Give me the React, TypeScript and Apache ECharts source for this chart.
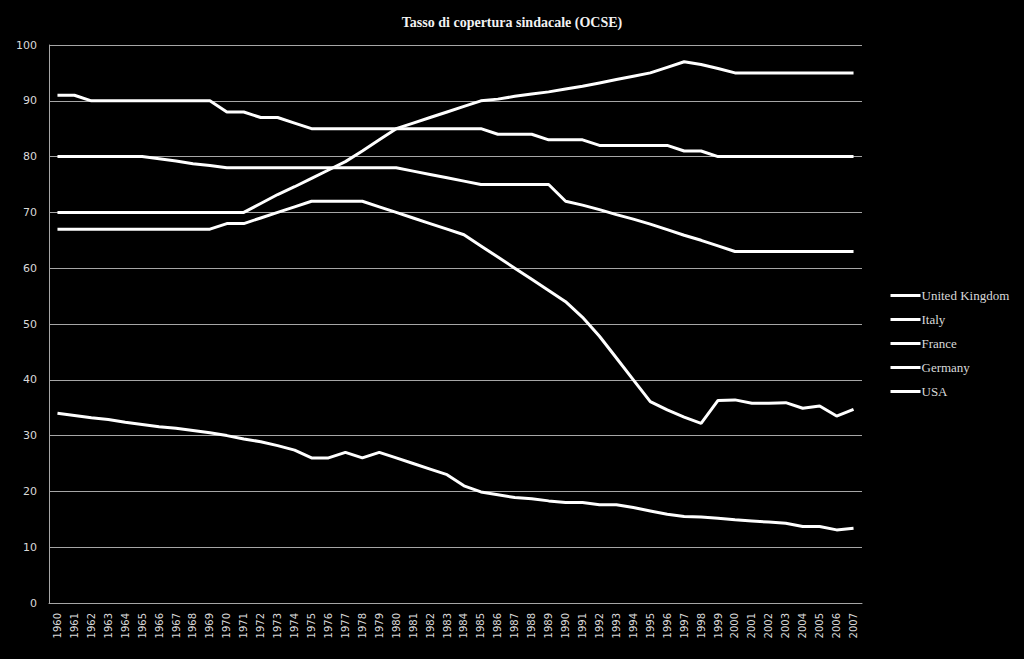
import React, { useEffect, useRef } from "react";
import * as echarts from "echarts";

const years: string[] = [];
for (let y = 1960; y <= 2007; y++) years.push(String(y));

const unitedKingdom = [
  67, 67, 67, 67, 67, 67, 67, 67, 67, 67, 68, 68, 69, 70, 71, 72, 72, 72, 72, 71,
  70, 69, 68, 67, 66, 64, 62, 60, 58, 56, 54, 51.2, 47.8, 43.9, 40, 36.1, 34.6, 33.3, 32.2, 36.3,
  36.4, 35.8, 35.8, 35.9, 34.9, 35.3, 33.5, 34.7,
];
const italy = [
  91, 91, 90, 90, 90, 90, 90, 90, 90, 90, 88, 88, 87, 87, 86, 85, 85, 85, 85, 85,
  85, 85, 85, 85, 85, 85, 84, 84, 84, 83, 83, 83, 82, 82, 82, 82, 82, 81, 81, 80,
  80, 80, 80, 80, 80, 80, 80, 80,
];
const france = [
  70, 70, 70, 70, 70, 70, 70, 70, 70, 70, 70, 70, 71.6, 73.2, 74.6, 76.1, 77.6, 79.1, 81, 83,
  85, 86, 87, 88, 89, 90, 90.3, 90.8, 91.2, 91.6, 92.1, 92.6, 93.2, 93.8, 94.4, 95, 96, 97, 96.5, 95.8,
  95, 95, 95, 95, 95, 95, 95, 95,
];
const germany = [
  80, 80, 80, 80, 80, 80, 79.6, 79.2, 78.7, 78.4, 78, 78, 78, 78, 78, 78, 78, 78, 78, 78,
  78, 77.4, 76.8, 76.2, 75.6, 75, 75, 75, 75, 75, 72, 71.3, 70.5, 69.6, 68.8, 67.9, 66.9, 65.9, 65, 64,
  63, 63, 63, 63, 63, 63, 63, 63,
];
const usa = [
  34, 33.6, 33.2, 32.9, 32.4, 32, 31.6, 31.3, 30.9, 30.5, 30, 29.4, 28.9, 28.2, 27.4, 26, 26, 27, 26, 27,
  26, 25, 24, 23, 21, 19.9, 19.4, 18.9, 18.7, 18.3, 18, 18, 17.6, 17.6, 17.1, 16.5, 15.9, 15.5, 15.4, 15.2,
  14.9, 14.7, 14.5, 14.3, 13.7, 13.7, 13.1, 13.4,
];

const seriesNames = ["United Kingdom", "Italy", "France", "Germany", "USA"];
const seriesData = [unitedKingdom, italy, france, germany, usa];

export default function App() {
  const ref = useRef<HTMLDivElement>(null);
  useEffect(() => {
    document.body.style.margin = "0";
    document.body.style.background = "#000";
    const chart = echarts.init(ref.current!, null, { renderer: "svg" });
    chart.setOption({
      animation: false,
      backgroundColor: "#000",
      title: {
        text: "Tasso di copertura sindacale (OCSE)",
        left: "center",
        top: 10,
        textStyle: {
          color: "#f2f2f2",
          fontFamily: "Liberation Serif",
          fontWeight: "bold",
          fontSize: 14,
        },
      },
      legend: {
        orient: "vertical",
        left: 884,
        top: 284,
        itemWidth: 30,
        itemHeight: 14,
        itemGap: 11,
        data: seriesNames,
        itemStyle: { opacity: 0 },
        lineStyle: { color: "#ffffff", width: 3 },
        textStyle: {
          color: "#d9d9d9",
          fontFamily: "Liberation Serif",
          fontSize: 13,
          padding: [0, 0, 0, -4],
        },
      },
      grid: { left: 49, right: 162, top: 45, bottom: 56, containLabel: false },
      xAxis: {
        type: "category",
        data: years,
        boundaryGap: true,
        axisLine: { lineStyle: { color: "#a6a6a6", width: 1 } },
        axisTick: { show: false },
        axisLabel: {
          rotate: 90,
          color: "#d9d9d9",
          fontFamily: "DejaVu Sans",
          fontSize: 10,
          margin: 10,
          interval: 0,
        },
      },
      yAxis: {
        type: "value",
        min: 0,
        max: 100,
        interval: 10,
        axisLine: { show: true, lineStyle: { color: "#a6a6a6", width: 1 } },
        axisTick: { show: false },
        splitLine: { lineStyle: { color: "#a6a6a6", width: 1 } },
        axisLabel: {
          color: "#d9d9d9",
          fontFamily: "DejaVu Sans",
          fontSize: 11,
          margin: 12,
        },
      },
      series: seriesNames.map((name, i) => ({
        name,
        type: "line",
        data: seriesData[i],
        symbol: "none",
        lineStyle: { color: "#ffffff", width: 3 },
        itemStyle: { color: "#ffffff" },
        z: 3,
      })),
    });
    return () => chart.dispose();
  }, []);
  return <div ref={ref} style={{ width: 1024, height: 659 }} />;
}
